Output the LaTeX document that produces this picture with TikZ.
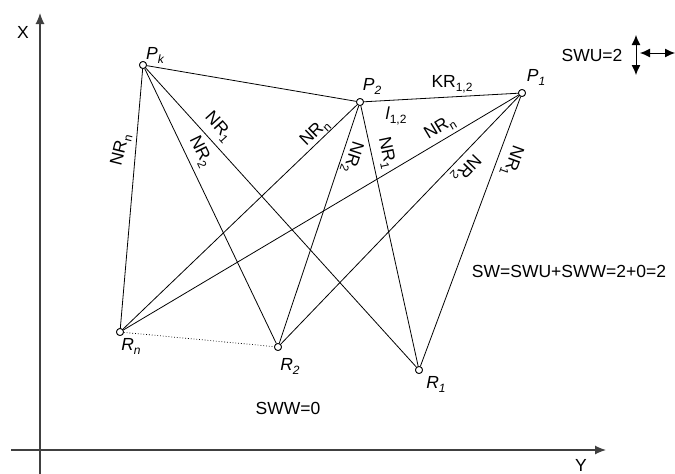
\documentclass[tikz,border=0pt]{standalone}
\usepackage{fontspec}
\setmainfont{Liberation Sans}
\usetikzlibrary{arrows.meta}
\newcommand{\sbs}[1]{\raisebox{-4pt}{\fontsize{12}{12}\selectfont #1}}
\tikzset{
  pt/.style={circle,draw=black,fill=white,inner sep=0pt,minimum size=7pt,line width=0.8pt},
  edge/.style={draw=black,line width=0.8pt},
  axis/.style={draw=black!75,line width=1.2pt,-{Latex[length=11pt,width=9pt]}},
  dbl/.style={line width=1pt,{Latex[length=10pt,width=9pt]}-{Latex[length=10pt,width=9pt]}},
  lbl/.style={inner sep=0pt,font=\fontsize{17.5}{20}\selectfont},
}
\begin{document}
\begin{tikzpicture}[x=1pt,y=-1pt]
\useasboundingbox (0,0) rectangle (675,474);
% axes
\coordinate (ax0) at (40,474);
\coordinate (ax1) at (40,13);
\coordinate (ay0) at (11,450);
\coordinate (ay1) at (606,450);
\draw[axis] (ax0) -- (ax1);
\draw[axis] (ay0) -- (ay1);
\node[lbl] (xl) at (23,32) {X};
\node[lbl] (yl) at (581,465) {Y};
% points
\node[pt] (Pk) at (143,65) {};
\node[pt] (P2) at (360,102) {};
\node[pt] (P1) at (522,93) {};
\node[pt] (Rn) at (120,332) {};
\node[pt] (R2) at (278,347) {};
\node[pt] (R1) at (419,370) {};
% edges
\draw[edge] (Pk) -- (P2);
\draw[edge] (P2) -- (P1);
\foreach \p in {Pk,P2,P1}{
  \foreach \r in {Rn,R2,R1}{
    \draw[edge] (\p) -- (\r);
  }
}
\draw[edge,dotted,line width=0.7pt] (Rn) -- (R2);
% redraw points on top
\node[pt] at (Pk) {};
\node[pt] at (P2) {};
\node[pt] at (P1) {};
\node[pt] at (Rn) {};
\node[pt] at (R2) {};
\node[pt] at (R1) {};
% point labels
\node[lbl] (lPk) at (155,55) {\textit{P\sbs{k}}};
\node[lbl] (lP2) at (372,86) {\textit{P\sbs{2}}};
\node[lbl] (lP1) at (536,77) {\textit{P\sbs{1}}};
\node[lbl] (lRn) at (131,346) {\textit{R\sbs{n}}};
\node[lbl] (lR2) at (290,366) {\textit{R\sbs{2}}};
\node[lbl] (lR1) at (436,384) {\textit{R\sbs{1}}};
% edge labels
\node[lbl,rotate=76] (e1) at (121,150) {NR\sbs{n}};
\node[lbl,rotate=-48] (e2) at (218,127) {NR\sbs{1}};
\node[lbl,rotate=-64] (e3) at (200,152) {NR\sbs{2}};
\node[lbl,rotate=44] (e4) at (315,133) {NR\sbs{n}};
\node[lbl,rotate=-108] (e5) at (352,157) {NR\sbs{2}};
\node[lbl,rotate=-78] (e6) at (386,153) {NR\sbs{1}};
\node[lbl,rotate=31] (e7) at (440,128) {NR\sbs{n}};
\node[lbl,rotate=-134] (e8) at (466,168) {NR\sbs{2}};
\node[lbl,rotate=-110] (e9) at (512,161) {NR\sbs{1}};
\node[lbl] (kr) at (452,84) {KR\sbs{1,2}};
\node[lbl] (l12) at (396,116) {\textit{l}\sbs{1,2}};
% texts
\node[lbl] (sww) at (288,408) {SWW=0};
\node[lbl] (sw) at (569,271) {SW=SWU+SWW=2+0=2};
\node[lbl] (swu) at (592,55) {SWU=2};
% double arrows
\coordinate (va) at (636,35);
\coordinate (vb) at (636,75);
\coordinate (ha) at (640,53);
\coordinate (hb) at (675,53);
\draw[dbl] (va) -- (vb);
\draw[dbl] (ha) -- (hb);
\end{tikzpicture}
\end{document}
